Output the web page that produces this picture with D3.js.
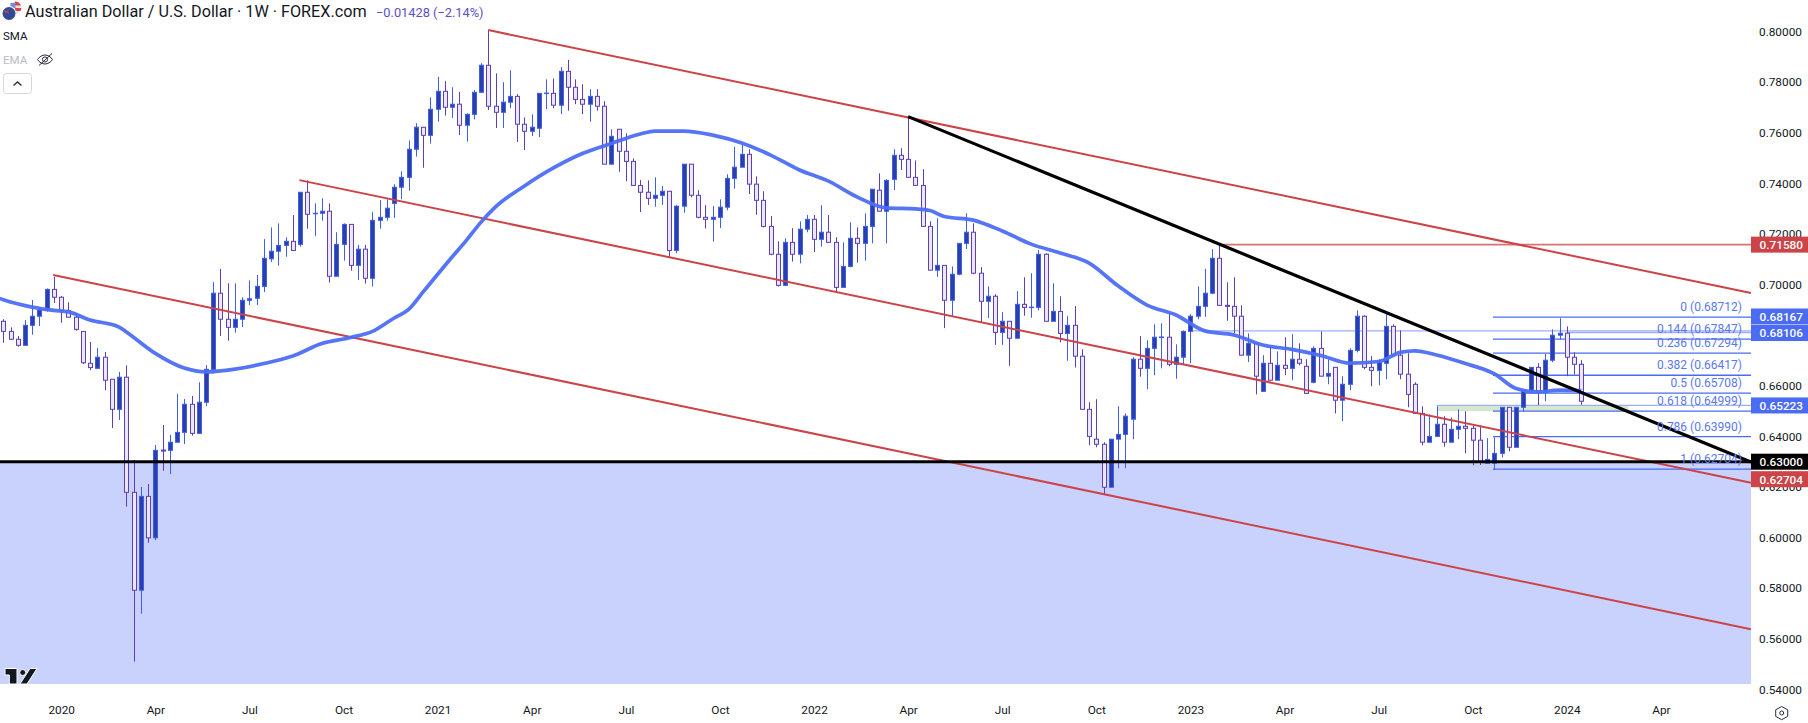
<!DOCTYPE html>
<html>
<head>
	<meta charset="utf-8">
	<script src="https://d3js.org/d3.v7.min.js"></script>
	<style>
		html, body {
			margin: 0;
			padding: 0;
			background: #fff;
			overflow: hidden;
		}
		svg {
			display: block;
		}
		text {
			font-family: Roboto, sans-serif;
		}
		.tick line, .domain {
			display: none;
		}
		.tick text {
			font-family: Roboto, sans-serif;
			font-size: 11.8px;
			fill: #131722;
		}
	</style>
</head>
<body>
<svg id="chart" width="1808" height="723"></svg>
<script>
// weekly AUD/USD candles
var opens = [
	.6855,.6815,.6784,.6760,.6839,.6875,.6900,.6981,.6950,.6898,
	.6871,.6815,.6689,.6669,.6713,.6626,.6507,.6634,.6179,.5792,
	.6163,.5999,.6346,.6345,.6377,.6416,.6527,.6412,.6535,.6665,
	.6966,.6863,.6831,.6863,.6938,.6946,.6993,.7102,.7132,.7155,
	.7171,.7159,.7365,.7281,.7282,.7290,.7033,.7159,.7238,.7076,
	.7140,.7025,.7254,.7266,.7321,.7385,.7424,.7535,.7622,.7590,
	.7693,.7764,.7701,.7713,.7630,.7673,.7760,.7867,.7705,.7681,
	.7721,.7744,.7634,.7606,.7618,.7756,.7756,.7709,.7843,.7780,
	.7732,.7713,.7744,.7705,.7476,.7614,.7527,.7487,.7392,.7365,
	.7341,.7353,.7369,.7135,.7310,.7476,.7353,.7266,.7258,.7266,
	.7306,.7420,.7464,.7515,.7397,.7333,.7230,.7120,.6997,.7167,
	.7120,.7219,.7258,.7179,.7207,.7167,.6989,.7072,.7183,.7163,
	.7230,.7373,.7290,.7416,.7511,.7495,.7424,.7392,.7230,.7057,
	.7076,.6938,.7041,.7163,.7207,.7045,.6934,.6954,.6811,.6855,
	.6788,.6922,.6910,.6910,.7120,.6855,.6894,.6807,.6839,.6717,
	.6507,.6389,.6369,.6199,.6389,.6408,.6468,.6705,.6669,.6748,
	.6792,.6792,.6685,.6713,.6815,.6875,.6914,.6966,.7104,.6918,
	.6914,.6875,.6721,.6768,.6578,.6689,.6622,.6681,.6669,.6705,
	.6677,.6614,.6748,.6638,.6673,.6543,.6606,.6740,.6875,.6673,
	.6661,.6689,.6835,.6721,.6646,.6606,.6491,.6377,.6400,.6448,
	.6377,.6428,.6440,.6432,.6385,.6294,.6294,.6333,.6515,.6357,
	.6515,.6582,.6673,.6574,.6701,.6800,.6808,.6713,.6685
];
var closes = [
	.6815,.6784,.6760,.6839,.6875,.6900,.6981,.6950,.6897,.6871,
	.6823,.6691,.6672,.6713,.6622,.6507,.6634,.6179,.5792,.6163,
	.5999,.6345,.6342,.6377,.6416,.6527,.6412,.6535,.6665,.6966,
	.6863,.6831,.6863,.6938,.6944,.6993,.7104,.7132,.7155,.7171,
	.7135,.7365,.7278,.7282,.7290,.7033,.7159,.7238,.7076,.7140,
	.7025,.7254,.7266,.7302,.7385,.7424,.7535,.7622,.7590,.7693,
	.7764,.7701,.7713,.7630,.7673,.7760,.7867,.7705,.7681,.7721,
	.7744,.7634,.7606,.7622,.7756,.7757,.7709,.7843,.7780,.7732,
	.7713,.7744,.7705,.7476,.7586,.7527,.7487,.7392,.7365,.7341,
	.7353,.7369,.7135,.7310,.7476,.7353,.7266,.7258,.7266,.7306,
	.7420,.7464,.7515,.7397,.7333,.7230,.7120,.6997,.7167,.7120,
	.7219,.7258,.7179,.7207,.7167,.6989,.7072,.7183,.7163,.7230,
	.7377,.7290,.7412,.7511,.7495,.7424,.7392,.7230,.7057,.7076,
	.6938,.7041,.7163,.7207,.7045,.6934,.6954,.6811,.6855,.6788,
	.6922,.6910,.6911,.7120,.6855,.6894,.6807,.6839,.6717,.6507,
	.6400,.6369,.6199,.6389,.6408,.6480,.6705,.6669,.6748,.6792,
	.6793,.6685,.6713,.6815,.6875,.6914,.6966,.7104,.6918,.6914,
	.6875,.6721,.6768,.6638,.6689,.6622,.6681,.6669,.6705,.6689,
	.6570,.6748,.6638,.6649,.6543,.6606,.6740,.6875,.6673,.6661,
	.6697,.6835,.6721,.6646,.6566,.6491,.6377,.6400,.6448,.6377,
	.6428,.6440,.6432,.6385,.6298,.6309,.6333,.6515,.6357,.6515,
	.6582,.6673,.6574,.6701,.6800,.6808,.6713,.6685,.6539
];
var highs = [
	.6863,.6831,.6797,.6860,.6939,.6910,.6985,.7031,.6955,.6930,
	.6887,.6815,.6773,.6749,.6734,.6626,.6655,.6681,.6307,.6200,
	.6212,.6366,.6445,.6406,.6568,.6548,.6560,.6614,.6682,.7010,
	.7062,.7005,.7005,.6950,.7017,.7038,.7180,.7226,.7242,.7187,
	.7275,.7365,.7412,.7321,.7341,.7321,.7207,.7242,.7238,.7157,
	.7157,.7286,.7334,.7337,.7397,.7448,.7570,.7638,.7622,.7740,
	.7821,.7804,.7780,.7761,.7677,.7769,.7875,.8006,.7835,.7800,
	.7847,.7753,.7661,.7673,.7756,.7811,.7815,.7860,.7888,.7811,
	.7792,.7772,.7772,.7725,.7614,.7614,.7598,.7499,.7413,.7412,
	.7424,.7390,.7369,.7314,.7476,.7476,.7373,.7314,.7310,.7337,
	.7436,.7545,.7555,.7535,.7428,.7369,.7271,.7171,.7183,.7223,
	.7250,.7275,.7275,.7314,.7275,.7187,.7167,.7246,.7226,.7282,
	.7377,.7440,.7416,.7535,.7539,.7661,.7491,.7456,.7250,.7262,
	.7076,.7072,.7163,.7282,.7242,.7069,.6993,.6962,.6891,.6855,
	.6974,.7029,.7045,.7136,.7124,.7005,.6954,.6875,.6915,.6744,
	.6535,.6547,.6377,.6389,.6519,.6491,.6713,.6796,.6780,.6843,
	.6847,.6887,.6764,.6819,.6883,.6993,.7062,.7140,.7155,.7009,
	.7029,.6918,.6807,.6768,.6721,.6760,.6736,.6792,.6804,.6768,
	.6705,.6756,.6815,.6705,.6673,.6638,.6748,.6898,.6879,.6717,
	.6705,.6894,.6843,.6819,.6729,.6614,.6519,.6487,.6519,.6480,
	.6475,.6507,.6499,.6444,.6444,.6393,.6396,.6515,.6515,.6515,
	.6582,.6673,.6689,.6725,.6823,.6867,.6835,.6732,.6701
];
var lows = [
	.6770,.6781,.6755,.6760,.6802,.6836,.6893,.6928,.6849,.6871,
	.6818,.6686,.6662,.6669,.6583,.6433,.6465,.6122,.5510,.5699,
	.5980,.5990,.6264,.6251,.6377,.6370,.6403,.6412,.6520,.6649,
	.6797,.6778,.6810,.6832,.6919,.6919,.6971,.7089,.7075,.7110,
	.7135,.7150,.7221,.7193,.7253,.7008,.7033,.7095,.7055,.7018,
	.7004,.6992,.7221,.7253,.7264,.7337,.7371,.7506,.7462,.7557,
	.7644,.7668,.7659,.7591,.7565,.7653,.7760,.7690,.7619,.7619,
	.7697,.7564,.7532,.7587,.7583,.7693,.7697,.7674,.7687,.7713,
	.7674,.7644,.7687,.7476,.7476,.7446,.7408,.7392,.7287,.7315,
	.7308,.7315,.7108,.7124,.7284,.7345,.7262,.7222,.7170,.7224,
	.7294,.7379,.7464,.7358,.7276,.7226,.7116,.6992,.6997,.7091,
	.7084,.7207,.7129,.7150,.7167,.6968,.6989,.7068,.7087,.7095,
	.7163,.7290,.7163,.7374,.7453,.7424,.7392,.7230,.7057,.7031,
	.6828,.6873,.7037,.7141,.7041,.6851,.6868,.6762,.6762,.6679,
	.6788,.6877,.6869,.6898,.6855,.6855,.6772,.6699,.6672,.6507,
	.6365,.6357,.6171,.6199,.6274,.6274,.6389,.6636,.6586,.6642,
	.6669,.6677,.6628,.6685,.6689,.6863,.6873,.6962,.6918,.6857,
	.6808,.6721,.6694,.6566,.6578,.6622,.6622,.6642,.6622,.6681,
	.6570,.6610,.6638,.6606,.6491,.6460,.6582,.6732,.6665,.6598,
	.6602,.6626,.6721,.6626,.6515,.6491,.6365,.6377,.6400,.6359,
	.6377,.6389,.6333,.6286,.6287,.6294,.6267,.6317,.6341,.6357,
	.6500,.6570,.6524,.6539,.6693,.6784,.6638,.6645,.6525
];

// moving average, sampled every few weeks
var smaWeeks = [-0.5,0,4,7,9,12,16,17,21,25,28,32,36,40,44,48,51,54,56,58,62,64,66,68,72,76,80,84,88,90,94,98,102,106,110,114,118,122,126,128,130,134,138,142,146,150,154,158,162,166,170,174,178,182,186,190,193,195,198,202,206,209,212,215,218];
var smaValues = [.6945,.6940,.6911,.6898,.6892,.6860,.6832,.6813,.6728,.6670,.6655,.6666,.6688,.6718,.6767,.6791,.6815,.6868,.6902,.6971,.7109,.7176,.7247,.7307,.7390,.7461,.7518,.7558,.7595,.7607,.7607,.7591,.7560,.7512,.7453,.7409,.7346,.7303,.7299,.7293,.7269,.7255,.7212,.7160,.7125,.7085,.6995,.6919,.6880,.6817,.6801,.6761,.6744,.6720,.6690,.6696,.6732,.6738,.6722,.6688,.6647,.6589,.6576,.6583,.6581];

// drawn lines: [week, price, week, price]
var channelLines = [
	[67, .8006, 241.43, .6967],
	[40.9, .7413, 241.43, .6217],
	[6.9, .7038, 241.43, .5638]
];
var trendLine = [125, .7664, 241.43, .6299];
var supportLevel = .63;

var fibRatios = ["0", "0.144", "0.236", "0.382", "0.5", "0.618", "0.786", "1"];
var fibPrices = [.68712, .67847, .67294, .66417, .65708, .64999, .63990, .62704];
var fibStartWeek = 205.8;

var priceTicks = [.54,.56,.58,.60,.62,.64,.66,.68,.70,.72,.74,.76,.78,.80];
var timeTickWeeks = [8,21,34,47,60,73,86,99,112,125,138,151,164,177,190,203,216,229];
var timeTickLabels = ["2020","Apr","Jul","Oct","2021","Apr","Jul","Oct","2022","Apr","Jul","Oct","2023","Apr","Jul","Oct","2024","Apr"];

var tagPrices = [.68167, .68106, .71580, .65223, .63000, .62704];
var tagColors = ["#4a6bf2", "#4a6bf2", "#cc4348", "#4a6bf2", "#000000", "#cc4348"];
var tagShifts = [-14.5, 0.5, 0, 0, 0, 10];

var svg = d3.select("#chart");
var x = d3.scaleLinear().domain([0, 218]).range([3.3, 1581.3]);
var y = d3.scaleLinear().domain([.54, .80]).range([689.4, 31.6]);
var plotRight = 1751, plotBottom = 684;

var upColor = "#3f5ef0", upFill = "#2a3fa8", downColor = "#5e3fb5", downFill = "#ebe6f8";

// support zone under 0.63
svg.append("rect")
	.attr("x", 0).attr("y", y(supportLevel))
	.attr("width", plotRight).attr("height", plotBottom - y(supportLevel))
	.attr("fill", "#c8d2fd");

// green box and the pale levels behind the candles
svg.append("rect")
	.attr("x", x(198.2)).attr("y", y(.65223))
	.attr("width", x(224.5) - x(198.2)).attr("height", y(.64999) - y(.65223))
	.attr("fill", "#d5e8cf");

var paleLevels = [[.68167, 164], [.68106, 216], [.65223, 198]];
svg.selectAll(".pale").data(paleLevels).enter().append("line")
	.attr("x1", function(d) { return x(d[1]); })
	.attr("x2", plotRight)
	.attr("y1", function(d) { return y(d[0]); })
	.attr("y2", function(d) { return y(d[0]); })
	.attr("stroke", "#9db0f6")
	.attr("stroke-width", 1.3);

svg.append("line")
	.attr("x1", x(168)).attr("x2", plotRight)
	.attr("y1", y(.7158)).attr("y2", y(.7158))
	.attr("stroke", "#cc4348").attr("stroke-opacity", .75).attr("stroke-width", 1.8);

// fib levels
svg.selectAll(".fib").data(fibPrices).enter().append("line")
	.attr("x1", x(fibStartWeek)).attr("x2", plotRight)
	.attr("y1", function(d) { return y(d); })
	.attr("y2", function(d) { return y(d); })
	.attr("stroke", "#4a6bf2")
	.attr("stroke-width", 1.3);

// candles
var candles = svg.append("g");
opens.forEach(function(o, i) {
	var c = closes[i], up = c >= o;
	var cx = Math.round(x(i)) + .5;
	candles.append("line")
		.attr("x1", cx).attr("x2", cx)
		.attr("y1", y(highs[i])).attr("y2", y(lows[i]))
		.attr("stroke", up ? upColor : downColor);
	candles.append("rect")
		.attr("x", cx - 2).attr("width", 4)
		.attr("y", y(Math.max(o, c)))
		.attr("height", Math.max(.5, Math.abs(y(o) - y(c))))
		.attr("fill", up ? upFill : downFill)
		.attr("stroke", up ? upColor : downColor);
});

// channel, support and trend lines
svg.selectAll(".channel").data(channelLines).enter().append("line")
	.attr("x1", function(d) { return x(d[0]); })
	.attr("y1", function(d) { return y(d[1]); })
	.attr("x2", function(d) { return x(d[2]); })
	.attr("y2", function(d) { return y(d[3]); })
	.attr("stroke", "#cc4348")
	.attr("stroke-width", 2);

var smaLine = d3.line()
	.x(function(d) { return x(d); })
	.y(function(d, i) { return y(smaValues[i]); })
	.curve(d3.curveMonotoneX);
svg.append("path")
	.attr("d", smaLine(smaWeeks))
	.attr("fill", "none")
	.attr("stroke", "#4c6ef5")
	.attr("stroke-opacity", .95)
	.attr("stroke-width", 3.7);

svg.append("line")
	.attr("x1", x(trendLine[0])).attr("y1", y(trendLine[1]))
	.attr("x2", x(trendLine[2])).attr("y2", y(trendLine[3]))
	.attr("stroke", "#000").attr("stroke-width", 3.2);

svg.append("line")
	.attr("x1", 0).attr("x2", plotRight)
	.attr("y1", y(supportLevel)).attr("y2", y(supportLevel))
	.attr("stroke", "#000").attr("stroke-width", 3);

// fib labels
svg.selectAll(".fibLabel").data(fibPrices).enter().append("text")
	.attr("x", 1742)
	.attr("y", function(d) { return y(d) - 6; })
	.attr("text-anchor", "end")
	.attr("font-size", 12)
	.attr("fill", "#5b78f0")
	.text(function(d, i) { return fibRatios[i] + " (" + d3.format(".5f")(d) + ")"; });

// axes
svg.append("g")
	.attr("transform", "translate(1751,0)")
	.call(d3.axisRight(y).tickValues(priceTicks).tickFormat(d3.format(".5f")).tickSize(0).tickPadding(8));

var labelByWeek = d3.scaleOrdinal().domain(timeTickWeeks).range(timeTickLabels);
svg.append("g")
	.attr("transform", "translate(0,703)")
	.call(d3.axisBottom(x).tickValues(timeTickWeeks).tickFormat(labelByWeek).tickSize(0).tickPadding(3));

// price tags on the right scale
var tags = svg.selectAll(".tag").data(tagPrices).enter().append("g")
	.attr("transform", function(d, i) { return "translate(1751," + (y(d) + tagShifts[i]) + ")"; });
tags.append("rect")
	.attr("x", 0).attr("y", -8).attr("width", 57).attr("height", 16)
	.attr("fill", function(d, i) { return tagColors[i]; });
tags.append("text")
	.attr("x", 8.5).attr("y", 4.3)
	.attr("font-size", 11.8)
	.attr("font-weight", 500)
	.attr("fill", "#fff")
	.text(function(d) { return d3.format(".5f")(d); });

// header
var flag = svg.append("g");
flag.append("circle").attr("cx", 15).attr("cy", 8).attr("r", 6.5).attr("fill", "#e8e4ec");
flag.append("path").attr("d", "M15 1.5a6.5 6.5 0 0 1 6 4h-6zM15 8h6.4a6.5 6.5 0 0 1-1 3h-5.4z").attr("fill", "#d8464c");
flag.append("rect").attr("x", 10.5).attr("y", 3).attr("width", 5).attr("height", 5).attr("fill", "#7b8fd0");
flag.append("circle").attr("cx", 9).attr("cy", 13).attr("r", 7).attr("fill", "#fff");
flag.append("circle").attr("cx", 9).attr("cy", 13.5).attr("r", 6.5).attr("fill", "#2f4a96");
flag.append("path").attr("d", "M3.5 10.5L9 13M9 9.5L5 13").attr("stroke", "#d8464c").attr("stroke-width", 1);

svg.append("text").attr("x", 25).attr("y", 17)
	.attr("font-size", 16.2).attr("fill", "#131722")
	.text("Australian Dollar / U.S. Dollar · 1W · FOREX.com");
svg.append("text").attr("x", 376).attr("y", 17)
	.attr("font-size", 12.8).attr("fill", "#5e4fc4")
	.text("−0.01428 (−2.14%)");
svg.append("text").attr("x", 3).attr("y", 40)
	.attr("font-size", 11.5).attr("fill", "#131722").text("SMA");
svg.append("text").attr("x", 3).attr("y", 64)
	.attr("font-size", 11.5).attr("fill", "#b8bcc8").text("EMA");

// hidden eye icon
svg.append("path")
	.attr("d", "M37.5 59.5c4-6 11-6 15 0c-4 6-11 6-15 0zM39 65.5L52 53.5")
	.attr("fill", "none").attr("stroke", "#2a2e39").attr("stroke-width", 1);
svg.append("circle").attr("cx", 45).attr("cy", 59.5).attr("r", 2.6)
	.attr("fill", "none").attr("stroke", "#2a2e39");

// collapse button
svg.append("rect")
	.attr("x", 3.5).attr("y", 73.5).attr("width", 28).attr("height", 20).attr("rx", 3)
	.attr("fill", "#fff").attr("stroke", "#d6d8de");
svg.append("path").attr("d", "M13.5 85.5l4-3.5l4 3.5")
	.attr("fill", "none").attr("stroke", "#2a2e39").attr("stroke-width", 1.4);

// logo, cut off by the bottom of the plot
var logo = svg.append("g").attr("fill", "#131722").attr("stroke", "#fff").attr("stroke-width", 1);
logo.append("path").attr("d", "M5 668.5H17V684H9.3V675H5Z");
logo.append("circle").attr("cx", 22.7).attr("cy", 672.5).attr("r", 3);
logo.append("path").attr("d", "M30 668.5H37L27 684H20Z");
svg.append("rect").attr("x", 0).attr("y", 684).attr("width", 60).attr("height", 8).attr("fill", "#fff");

// settings gear
svg.append("path").attr("d", "M1781.7 706.5l6 3.3v6.6l-6 3.3l-6-3.3v-6.6z")
	.attr("fill", "none").attr("stroke", "#2a2e39");
svg.append("circle").attr("cx", 1781.7).attr("cy", 713).attr("r", 2)
	.attr("fill", "none").attr("stroke", "#2a2e39");
</script>
</body>
</html>
